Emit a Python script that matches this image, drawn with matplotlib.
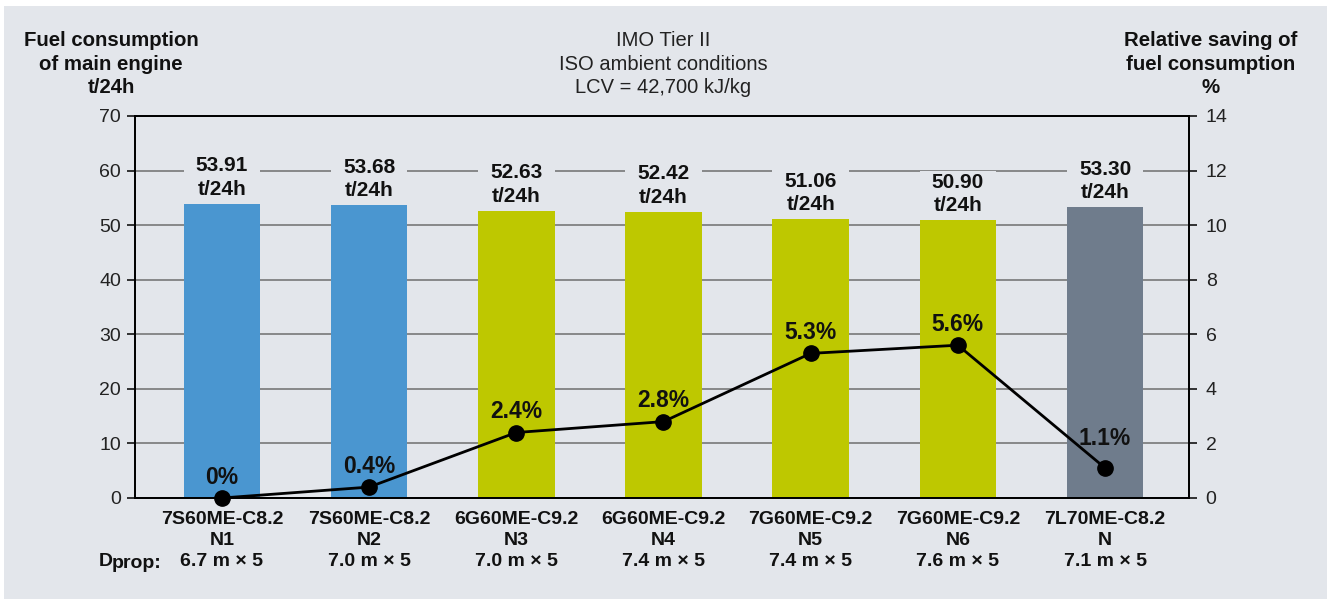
import matplotlib
matplotlib.use("Agg")
import matplotlib.pyplot as plt
from matplotlib.patches import Rectangle
import numpy as np

# ---- data ----
engines = ["7S60ME-C8.2", "7S60ME-C8.2", "6G60ME-C9.2", "6G60ME-C9.2",
           "7G60ME-C9.2", "7G60ME-C9.2", "7L70ME-C8.2"]
points = ["N1", "N2", "N3", "N4", "N5", "N6", "N"]
dprop = ["6.7 m × 5", "7.0 m × 5", "7.0 m × 5", "7.4 m × 5",
         "7.4 m × 5", "7.6 m × 5", "7.1 m × 5"]
fuel = [53.91, 53.68, 52.63, 52.42, 51.06, 50.90, 53.30]
saving = [0.0, 0.4, 2.4, 2.8, 5.3, 5.6, 1.1]
saving_labels = ["0%", "0.4%", "2.4%", "2.8%", "5.3%", "5.6%", "1.1%"]
left_ticks = [0, 10, 20, 30, 40, 50, 60, 70]
right_ticks = [0, 2, 4, 6, 8, 10, 12, 14]

# ---- style ----
BG = "#e3e6eb"
BLUE = "#4a96d0"
GREEN = "#bec800"
GREY = "#6f7c8c"
bar_colors = [BLUE, BLUE, GREEN, GREEN, GREEN, GREEN, GREY]
FONT = ["Liberation Sans", "DejaVu Sans"]
plt.rcParams["font.family"] = FONT

W, H = 1330, 599
fig = plt.figure(figsize=(W / 100, H / 100), dpi=100, facecolor="white")
fig.patches.append(Rectangle((4 / W, 0), 1323 / W, 593 / H, transform=fig.transFigure,
                             facecolor=BG, edgecolor="none", zorder=-10))

ax = fig.add_axes([135 / W, 101 / H, (1189 - 135) / W, (498 - 116) / H])
ax.set_facecolor("none")
x = np.arange(len(fuel))
bar_w = 0.52

ax.set_xlim(-0.59, 6.57)
ax.set_ylim(0, 70)
ax.set_yticks(left_ticks)
ax.yaxis.grid(True, color="#6e6e6e", linewidth=1.1, zorder=0.5)
ax.set_axisbelow(True)

# masks hiding gridlines behind value labels
ax.bar(x, [9.0] * len(fuel), bottom=fuel, width=bar_w, color=BG, zorder=1.5)
ax.bar(x, fuel, width=bar_w, color=bar_colors, zorder=2)

for xi, v in zip(x, fuel):
    ax.annotate(f"{v:.2f}\nt/24h", (xi, v), xytext=(0, 5), textcoords="offset pixels",
                ha="center", va="bottom", fontsize=15, fontweight="bold",
                linespacing=1.3, color="#111111", zorder=5)

for sp in ax.spines.values():
    sp.set_color("black")
    sp.set_linewidth(1.3)

ax.tick_params(axis="y", length=6, width=1.1, pad=4, labelsize=14, labelcolor="#222222")
ax.set_xticks(x)
ax.set_xticklabels([f"{e}\n{p}\n{d}" for e, p, d in zip(engines, points, dprop)],
                   fontsize=14, fontweight="bold", linespacing=1.3, color="#111111")
ax.tick_params(axis="x", length=0, pad=9.5)

ax2 = ax.twinx()
ax2.set_ylim(0, 14)
ax2.set_yticks(right_ticks)
ax2.tick_params(axis="y", length=6, width=1.1, pad=6, labelsize=14, labelcolor="#222222")
for sp in ax2.spines.values():
    sp.set_color("black")
    sp.set_linewidth(1.3)
ax2.plot(x, saving, color="black", linewidth=2.0, marker="o", markersize=11,
         zorder=4, clip_on=False)
for i, (xi, s, lab) in enumerate(zip(x, saving, saving_labels)):
    off = 29 if i == len(saving) - 1 else 21
    ax2.annotate(lab, (xi, s), xytext=(0, off), textcoords="offset pixels",
                 ha="center", va="center", fontsize=16.5,
                 fontweight="bold", color="#111111")

# Dprop label
fig.text(99 / W, 1 - 561 / H, "D", ha="left", va="center", fontsize=14,
         fontweight="bold", color="#111111")
fig.text(112 / W, 1 - 563 / H, "prop:", ha="left", va="center", fontsize=14,
         fontweight="bold", color="#111111")

# titles
fig.text(111 / W, 1 - 64 / H, "Fuel consumption\nof main engine\nt/24h", ha="center",
         va="center", fontsize=14.7, fontweight="bold", linespacing=1.3, color="#111111")
fig.text(1211 / W, 1 - 64 / H, "Relative saving of\nfuel consumption\n%", ha="center",
         va="center", fontsize=14.7, fontweight="bold", linespacing=1.3, color="#111111")
fig.text(663 / W, 1 - 64 / H, "IMO Tier II\nISO ambient conditions\nLCV = 42,700 kJ/kg",
         ha="center", va="center", fontsize=14.5, linespacing=1.3, color="#222222")

fig.savefig("out.png", dpi=100, facecolor="white")
